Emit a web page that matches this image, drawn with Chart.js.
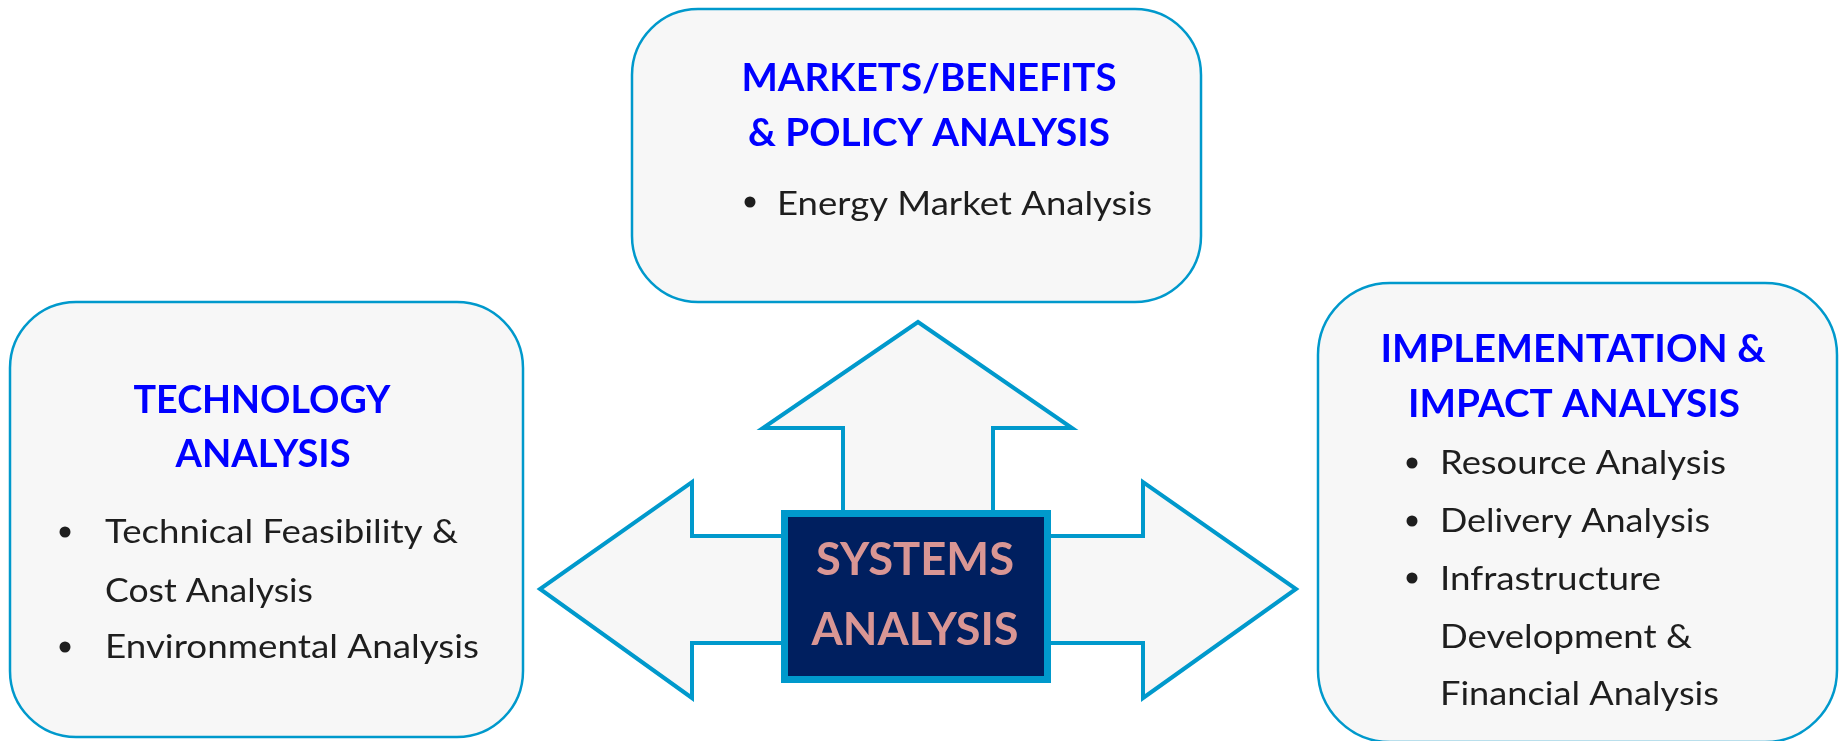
<!DOCTYPE html>
<html>
<head>
<meta charset="utf-8">
<script src="https://cdn.jsdelivr.net/npm/chart.js@4/dist/chart.umd.min.js"></script>
<style>
  html, body { margin: 0; padding: 0; background: #fff; }
  canvas { display: block; }
</style>
</head>
<body>
<canvas id="diagram" width="1841" height="741"></canvas>
<script>
// arrow outlines (diagram units = pixels of the original picture)
const upArrowX = [843, 843, 763, 918, 1072, 993, 993, 843];
const upArrowY = [515, 428, 428, 322, 428, 428, 515, 515];
const leftArrowX = [785, 692, 692, 540, 692, 692, 785, 785];
const leftArrowY = [536, 536, 482, 589, 698, 643, 643, 536];
const rightArrowX = [1047, 1143, 1143, 1296, 1143, 1143, 1047, 1047];
const rightArrowY = [536, 536, 482, 589, 698, 643, 643, 536];

// panels: [x0, y0, x1, y1]
const topPanel = [632, 9, 1201, 302];
const leftPanel = [10, 302, 523, 737];
const rightPanel = [1318, 283, 1837, 742];
const centerBox = [781, 510, 1051, 683];

// texts
const topTitle = ["MARKETS/BENEFITS", "& POLICY ANALYSIS"];
const topItems = ["Energy Market Analysis"];
const leftTitle = ["TECHNOLOGY", "ANALYSIS"];
const leftItems = ["Technical Feasibility &", "Cost Analysis", "Environmental Analysis"];
const rightTitle = ["IMPLEMENTATION &", "IMPACT ANALYSIS"];
const rightItems = ["Resource Analysis", "Delivery Analysis", "Infrastructure", "Development &", "Financial Analysis"];
const centerTitle = ["SYSTEMS", "ANALYSIS"];

const toPts = (xs, ys) => xs.map((x, i) => ({ x: x, y: ys[i] }));

function arrow(xs, ys) {
  return {
    data: toPts(xs, ys),
    showLine: true,
    fill: 'shape',
    backgroundColor: '#F7F7F7',
    borderColor: '#0099CC',
    borderWidth: 4,
    borderJoinStyle: 'miter',
    pointRadius: 0,
    tension: 0
  };
}

function roundRect(ctx, x0, y0, x1, y1, r) {
  ctx.beginPath();
  ctx.moveTo(x0 + r, y0);
  ctx.lineTo(x1 - r, y0);
  ctx.arcTo(x1, y0, x1, y0 + r, r);
  ctx.lineTo(x1, y1 - r);
  ctx.arcTo(x1, y1, x1 - r, y1, r);
  ctx.lineTo(x0 + r, y1);
  ctx.arcTo(x0, y1, x0, y1 - r, r);
  ctx.lineTo(x0, y0 + r);
  ctx.arcTo(x0, y0, x0 + r, y0, r);
  ctx.closePath();
}

// draw text with a given cap height, stretched to a given width
function fitText(ctx, str, x, y, cap, width, weight, align, color) {
  ctx.save();
  ctx.font = weight + ' 100px Lato';
  const m = ctx.measureText('H');
  const size = 100 * cap / m.actualBoundingBoxAscent;
  ctx.font = weight + ' ' + size + 'px Lato';
  const w = ctx.measureText(str).width;
  ctx.translate(x, y);
  ctx.scale(width / w, 1);
  ctx.textAlign = align;
  ctx.textBaseline = 'alphabetic';
  ctx.fillStyle = color;
  ctx.fillText(str, 0, 0);
  ctx.restore();
}

function bullet(ctx, x, y) {
  ctx.beginPath();
  ctx.arc(x, y, 5.5, 0, Math.PI * 2);
  ctx.fillStyle = '#1E1E1E';
  ctx.fill();
}

const diagramPlugin = {
  id: 'diagram',
  beforeDatasetsDraw(chart) {
    const ctx = chart.ctx;
    const sx = chart.scales.x, sy = chart.scales.y;
    [[topPanel, 66], [leftPanel, 66], [rightPanel, 72]].forEach(([b, r]) => {
      roundRect(ctx, sx.getPixelForValue(b[0]), sy.getPixelForValue(b[1]),
        sx.getPixelForValue(b[2]), sy.getPixelForValue(b[3]), r);
      ctx.fillStyle = '#F7F7F7';
      ctx.fill();
      ctx.lineWidth = 2.5;
      ctx.strokeStyle = '#0099CC';
      ctx.stroke();
    });
  },
  afterDatasetsDraw(chart) {
    const ctx = chart.ctx;
    const sx = chart.scales.x, sy = chart.scales.y;
    const px = v => sx.getPixelForValue(v);
    const py = v => sy.getPixelForValue(v);

    // center box
    const [cx0, cy0, cx1, cy1] = centerBox;
    ctx.fillStyle = '#0099CC';
    ctx.fillRect(px(cx0), py(cy0), px(cx1) - px(cx0), py(cy1) - py(cy0));
    ctx.fillStyle = '#001F5F';
    ctx.fillRect(px(cx0) + 7, py(cy0) + 7, px(cx1) - px(cx0) - 14, py(cy1) - py(cy0) - 14);
    fitText(ctx, centerTitle[0], px(915), py(575), 33, 198, 'bold', 'center', '#D99694');
    fitText(ctx, centerTitle[1], px(915), py(645), 33, 207, 'bold', 'center', '#D99694');

    const blue = '#0000FF', ink = '#1E1E1E';
    // top panel
    fitText(ctx, topTitle[0], px(929), py(91), 27.5, 375, 'bold', 'center', blue);
    fitText(ctx, topTitle[1], px(929), py(146), 27.5, 362, 'bold', 'center', blue);
    bullet(ctx, px(750), py(202));
    fitText(ctx, topItems[0], px(777), py(215), 24.5, 375, 'normal', 'left', ink);

    // left panel
    fitText(ctx, leftTitle[0], px(262), py(413), 27.5, 257, 'bold', 'center', blue);
    fitText(ctx, leftTitle[1], px(263), py(467), 27.5, 175, 'bold', 'center', blue);
    bullet(ctx, px(65), py(532));
    bullet(ctx, px(65), py(647));
    fitText(ctx, leftItems[0], px(105), py(543), 24, 353, 'normal', 'left', ink);
    fitText(ctx, leftItems[1], px(105), py(602), 24, 208, 'normal', 'left', ink);
    fitText(ctx, leftItems[2], px(105), py(658), 24, 374, 'normal', 'left', ink);

    // right panel
    fitText(ctx, rightTitle[0], px(1573), py(362), 27.5, 385, 'bold', 'center', blue);
    fitText(ctx, rightTitle[1], px(1574), py(417), 27.5, 332, 'bold', 'center', blue);
    bullet(ctx, px(1412), py(463));
    bullet(ctx, px(1412), py(521));
    bullet(ctx, px(1412), py(578));
    const rightBase = [474, 532, 590, 648, 705];
    const rightWidth = [286, 270, 221, 252, 279];
    rightItems.forEach((t, i) => {
      fitText(ctx, t, px(1440), py(rightBase[i]), 24, rightWidth[i], 'normal', 'left', ink);
    });
  }
};

new Chart(document.getElementById('diagram'), {
  type: 'scatter',
  data: {
    datasets: [arrow(upArrowX, upArrowY), arrow(leftArrowX, leftArrowY), arrow(rightArrowX, rightArrowY)]
  },
  options: {
    responsive: false,
    animation: false,
    layout: { padding: 0 },
    scales: {
      x: { type: 'linear', min: 0, max: 1841, display: false },
      y: { type: 'linear', min: 0, max: 741, reverse: true, display: false }
    },
    plugins: { legend: { display: false }, tooltip: { enabled: false } }
  },
  plugins: [diagramPlugin]
});
</script>
</body>
</html>
